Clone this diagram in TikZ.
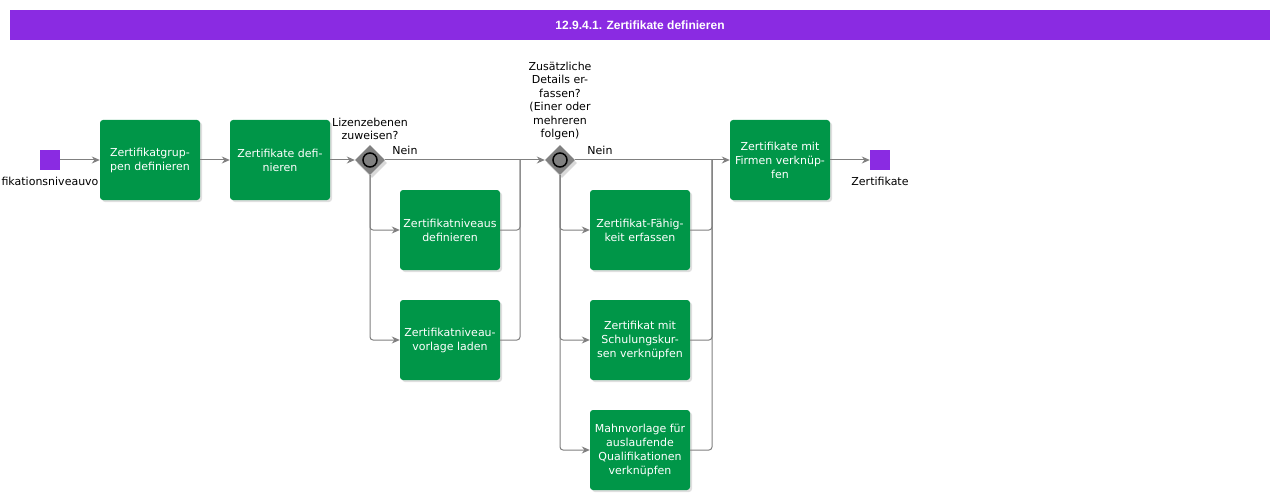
\documentclass[tikz,border=0pt]{standalone}
\usepackage{fontspec}
\setmainfont{DejaVu Sans}
\newfontfamily\titlefont{Liberation Sans}
\usetikzlibrary{arrows.meta,positioning,shapes.geometric,shadows}
\definecolor{actgreen}{RGB}{0,150,72}
\definecolor{evpurple}{RGB}{138,43,226}
\definecolor{flowgray}{RGB}{128,128,128}

\begin{document}
\begin{tikzpicture}[x=1pt,y=-1pt,
    act/.style={fill=actgreen,rounded corners=3pt,minimum width=100pt,minimum height=80pt,
        align=center,text=white,font=\fontsize{11}{14}\selectfont,
        drop shadow={shadow xshift=2pt,shadow yshift=-2pt,opacity=.25}},
    gw/.style={diamond,fill=flowgray,minimum size=30pt,inner sep=0pt,
        drop shadow={shadow xshift=2pt,shadow yshift=-3pt,opacity=.3}},
    ev/.style={fill=evpurple,minimum size=20pt,inner sep=0pt},
    lbl/.style={font=\fontsize{11}{13.5}\selectfont,align=center},
    flow/.style={draw=flowgray,line width=1pt,rounded corners=3pt,-{Stealth[length=8pt,width=7pt]}},
    merge/.style={draw=flowgray,line width=1pt,rounded corners=3pt}]
    \useasboundingbox (0,0) rectangle (1280,500);

    \node[fill=evpurple,minimum width=1260pt,minimum height=30pt,inner sep=0pt,text=white,
        font=\titlefont\bfseries\fontsize{12}{14}\selectfont] (title) at (640,25) {12.9.4.1. Zertifikate definieren};

    \node[ev] (start) at (50,160) {};
    \node[lbl] (startlbl) at (50,181) {fikationsniveauvo};

    \node[act] (act1) at (150,160) {Zertifikatgrup-\\pen definieren};
    \node[act] (act2) at (280,160) {Zertifikate defi-\\nieren};

    \node[gw] (gw1) at (370,160) {};
    \draw[black,line width=1.5pt,fill=flowgray] (gw1.center) circle (7);
    \node[lbl] (gw1lbl) at (370,129) {Lizenzebenen\\zuweisen?};
    \node[lbl] (nein1) at (405,150) {Nein};

    \node[act] (act3) at (450,230) {Zertifikatniveaus\\definieren};
    \node[act] (act4) at (450,340) {Zertifikatniveau-\\vorlage laden};
    \coordinate (join1) at (520,160);

    \node[gw] (gw2) at (560,160) {};
    \draw[black,line width=1.5pt,fill=flowgray] (gw2.center) circle (7);
    \node[lbl] (gw2lbl) at (560,101) {Zusätzliche\\Details er-\\fassen?\\(Einer oder\\mehreren\\folgen)};
    \node[lbl] (nein2) at (600,150) {Nein};

    \node[act] (act5) at (640,230) {Zertifikat-Fähig-\\keit erfassen};
    \node[act] (act6) at (640,340) {Zertifikat mit\\Schulungskur-\\sen verknüpfen};
    \node[act] (act7) at (640,450) {Mahnvorlage für\\auslaufende\\Qualifikationen\\verknüpfen};
    \coordinate (join2) at (712,160);

    \node[act] (act8) at (780,160) {Zertifikate mit\\Firmen verknüp-\\fen};

    \node[ev] (stop) at (880,160) {};
    \node[lbl] (stoplbl) at (880,181) {Zertifikate};

    \foreach \from/\to in {start/act1,act1/act2,act2/gw1,gw1/gw2,gw2/act8,act8/stop}
        \draw[flow] (\from)--(\to);
    \foreach \to in {act3,act4}
        \draw[flow] (gw1.south) |- (\to.west);
    \foreach \to in {act5,act6,act7}
        \draw[flow] (gw2.south) |- (\to.west);
    \foreach \from in {act3,act4}
        \draw[merge] (\from.east) -| (join1);
    \foreach \from in {act5,act6,act7}
        \draw[merge] (\from.east) -| (join2);
\end{tikzpicture}
\end{document}
